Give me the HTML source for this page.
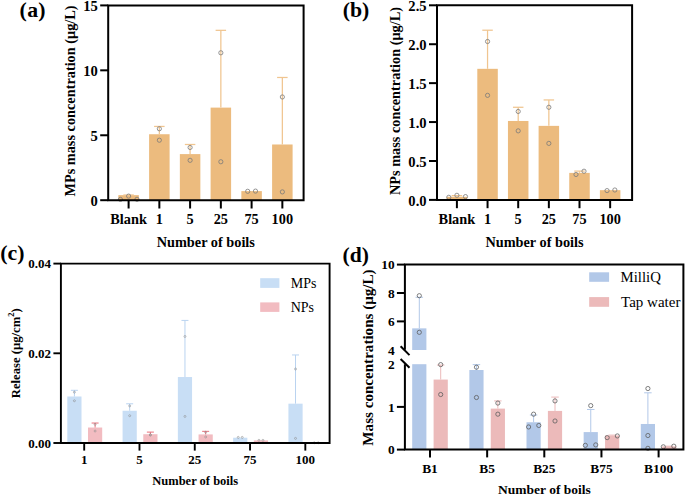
<!DOCTYPE html>
<html><head><meta charset="utf-8"><style>
html,body{margin:0;padding:0;background:#fff;}
body{width:685px;height:495px;overflow:hidden;}
svg{display:block;font-family:"Liberation Serif",serif;}
</style></head><body>
<svg width="685" height="495" viewBox="0 0 685 495">
<rect width="685" height="495" fill="#fff"/>
<rect x="118.35" y="195.14" width="20.50" height="5.06" fill="#ecbb7e"/>
<line x1="128.60" y1="195.14" x2="128.60" y2="195.01" stroke="#f0c590" stroke-width="1.25"/>
<line x1="123.35" y1="195.01" x2="133.85" y2="195.01" stroke="#f0c590" stroke-width="1.25"/>
<rect x="149.10" y="134.23" width="20.50" height="65.97" fill="#ecbb7e"/>
<line x1="159.35" y1="134.23" x2="159.35" y2="126.44" stroke="#f0c590" stroke-width="1.25"/>
<line x1="154.10" y1="126.44" x2="164.60" y2="126.44" stroke="#f0c590" stroke-width="1.25"/>
<rect x="179.85" y="154.10" width="20.50" height="46.10" fill="#ecbb7e"/>
<line x1="190.10" y1="154.10" x2="190.10" y2="144.49" stroke="#f0c590" stroke-width="1.25"/>
<line x1="184.85" y1="144.49" x2="195.35" y2="144.49" stroke="#f0c590" stroke-width="1.25"/>
<rect x="210.60" y="107.61" width="20.50" height="92.59" fill="#ecbb7e"/>
<line x1="220.85" y1="107.61" x2="220.85" y2="30.33" stroke="#f0c590" stroke-width="1.25"/>
<line x1="215.60" y1="30.33" x2="226.10" y2="30.33" stroke="#f0c590" stroke-width="1.25"/>
<rect x="241.35" y="191.11" width="20.50" height="9.09" fill="#ecbb7e"/>
<rect x="272.10" y="144.49" width="20.50" height="55.71" fill="#ecbb7e"/>
<line x1="282.35" y1="144.49" x2="282.35" y2="77.48" stroke="#f0c590" stroke-width="1.25"/>
<line x1="277.10" y1="77.48" x2="287.60" y2="77.48" stroke="#f0c590" stroke-width="1.25"/>
<circle cx="120.40" cy="199.40" r="2.1" fill="none" stroke="#7a7a7a" stroke-width="0.8"/>
<circle cx="128.60" cy="196.10" r="2.1" fill="none" stroke="#7a7a7a" stroke-width="0.8"/>
<circle cx="137.00" cy="199.30" r="2.1" fill="none" stroke="#7a7a7a" stroke-width="0.8"/>
<circle cx="159.35" cy="128.77" r="2.1" fill="none" stroke="#7a7a7a" stroke-width="0.8"/>
<circle cx="159.35" cy="140.20" r="2.1" fill="none" stroke="#7a7a7a" stroke-width="0.8"/>
<circle cx="190.10" cy="147.47" r="2.1" fill="none" stroke="#7a7a7a" stroke-width="0.8"/>
<circle cx="190.10" cy="160.33" r="2.1" fill="none" stroke="#7a7a7a" stroke-width="0.8"/>
<circle cx="220.85" cy="52.80" r="2.1" fill="none" stroke="#7a7a7a" stroke-width="0.8"/>
<circle cx="220.85" cy="161.76" r="2.1" fill="none" stroke="#7a7a7a" stroke-width="0.8"/>
<circle cx="247.70" cy="191.30" r="2.1" fill="none" stroke="#7a7a7a" stroke-width="0.8"/>
<circle cx="255.50" cy="191.10" r="2.1" fill="none" stroke="#7a7a7a" stroke-width="0.8"/>
<circle cx="282.35" cy="96.96" r="2.1" fill="none" stroke="#7a7a7a" stroke-width="0.8"/>
<circle cx="282.35" cy="191.89" r="2.1" fill="none" stroke="#7a7a7a" stroke-width="0.8"/>
<path d="M108.20,5.40 H303.60 V200.20 H108.20 Z" fill="none" stroke="#000" stroke-width="2"/>
<line x1="100.20" y1="200.20" x2="108.20" y2="200.20" stroke="#000" stroke-width="2"/>
<text x="97.80" y="206.10" font-size="14.6" font-weight="bold" text-anchor="end" >0</text>
<line x1="100.20" y1="135.27" x2="108.20" y2="135.27" stroke="#000" stroke-width="2"/>
<text x="97.80" y="141.17" font-size="14.6" font-weight="bold" text-anchor="end" >5</text>
<line x1="100.20" y1="70.33" x2="108.20" y2="70.33" stroke="#000" stroke-width="2"/>
<text x="97.80" y="76.23" font-size="14.6" font-weight="bold" text-anchor="end" >10</text>
<line x1="100.20" y1="5.40" x2="108.20" y2="5.40" stroke="#000" stroke-width="2"/>
<text x="97.80" y="11.30" font-size="14.6" font-weight="bold" text-anchor="end" >15</text>
<line x1="128.60" y1="200.20" x2="128.60" y2="208.50" stroke="#000" stroke-width="2"/>
<line x1="159.35" y1="200.20" x2="159.35" y2="208.50" stroke="#000" stroke-width="2"/>
<line x1="190.10" y1="200.20" x2="190.10" y2="208.50" stroke="#000" stroke-width="2"/>
<line x1="220.85" y1="200.20" x2="220.85" y2="208.50" stroke="#000" stroke-width="2"/>
<line x1="251.60" y1="200.20" x2="251.60" y2="208.50" stroke="#000" stroke-width="2"/>
<line x1="282.35" y1="200.20" x2="282.35" y2="208.50" stroke="#000" stroke-width="2"/>
<text x="128.60" y="224.20" font-size="14.3" font-weight="bold" text-anchor="middle" >Blank</text>
<text x="159.35" y="224.20" font-size="14.3" font-weight="bold" text-anchor="middle" >1</text>
<text x="190.10" y="224.20" font-size="14.3" font-weight="bold" text-anchor="middle" >5</text>
<text x="220.85" y="224.20" font-size="14.3" font-weight="bold" text-anchor="middle" >25</text>
<text x="251.60" y="224.20" font-size="14.3" font-weight="bold" text-anchor="middle" >75</text>
<text x="282.35" y="224.20" font-size="14.3" font-weight="bold" text-anchor="middle" >100</text>
<text x="205.80" y="246.70" font-size="14.3" font-weight="bold" text-anchor="middle" >Number of boils</text>
<text transform="translate(75.00,101.00) rotate(-90)" font-size="14.3" font-weight="bold" text-anchor="middle">MPs mass concentration (μg/L)</text>
<text x="19.60" y="17.20" font-size="21.8" font-weight="bold" text-anchor="start" letter-spacing="0.3">(a)</text>
<rect x="446.65" y="196.79" width="20.50" height="3.11" fill="#ecbb7e"/>
<line x1="456.90" y1="196.79" x2="456.90" y2="195.62" stroke="#f0c590" stroke-width="1.25"/>
<line x1="451.65" y1="195.62" x2="462.15" y2="195.62" stroke="#f0c590" stroke-width="1.25"/>
<rect x="477.30" y="68.82" width="20.50" height="131.08" fill="#ecbb7e"/>
<line x1="487.55" y1="68.82" x2="487.55" y2="30.21" stroke="#f0c590" stroke-width="1.25"/>
<line x1="482.30" y1="30.21" x2="492.80" y2="30.21" stroke="#f0c590" stroke-width="1.25"/>
<rect x="507.95" y="120.97" width="20.50" height="78.93" fill="#ecbb7e"/>
<line x1="518.20" y1="120.97" x2="518.20" y2="107.27" stroke="#f0c590" stroke-width="1.25"/>
<line x1="512.95" y1="107.27" x2="523.45" y2="107.27" stroke="#f0c590" stroke-width="1.25"/>
<rect x="538.60" y="125.87" width="20.50" height="74.03" fill="#ecbb7e"/>
<line x1="548.85" y1="125.87" x2="548.85" y2="99.95" stroke="#f0c590" stroke-width="1.25"/>
<line x1="543.60" y1="99.95" x2="554.10" y2="99.95" stroke="#f0c590" stroke-width="1.25"/>
<rect x="569.25" y="172.89" width="20.50" height="27.01" fill="#ecbb7e"/>
<line x1="579.50" y1="172.89" x2="579.50" y2="171.10" stroke="#f0c590" stroke-width="1.25"/>
<line x1="574.25" y1="171.10" x2="584.75" y2="171.10" stroke="#f0c590" stroke-width="1.25"/>
<rect x="599.90" y="190.17" width="20.50" height="9.73" fill="#ecbb7e"/>
<circle cx="448.80" cy="197.30" r="2.1" fill="none" stroke="#7a7a7a" stroke-width="0.8"/>
<circle cx="456.90" cy="195.30" r="2.1" fill="none" stroke="#7a7a7a" stroke-width="0.8"/>
<circle cx="465.50" cy="196.60" r="2.1" fill="none" stroke="#7a7a7a" stroke-width="0.8"/>
<circle cx="487.55" cy="41.50" r="2.1" fill="none" stroke="#7a7a7a" stroke-width="0.8"/>
<circle cx="487.55" cy="95.36" r="2.1" fill="none" stroke="#7a7a7a" stroke-width="0.8"/>
<circle cx="518.20" cy="111.47" r="2.1" fill="none" stroke="#7a7a7a" stroke-width="0.8"/>
<circle cx="518.20" cy="130.86" r="2.1" fill="none" stroke="#7a7a7a" stroke-width="0.8"/>
<circle cx="548.85" cy="107.27" r="2.1" fill="none" stroke="#7a7a7a" stroke-width="0.8"/>
<circle cx="548.85" cy="143.39" r="2.1" fill="none" stroke="#7a7a7a" stroke-width="0.8"/>
<circle cx="576.00" cy="174.50" r="2.1" fill="none" stroke="#7a7a7a" stroke-width="0.8"/>
<circle cx="584.00" cy="171.20" r="2.1" fill="none" stroke="#7a7a7a" stroke-width="0.8"/>
<circle cx="607.05" cy="190.60" r="2.1" fill="none" stroke="#7a7a7a" stroke-width="0.8"/>
<circle cx="614.85" cy="190.00" r="2.1" fill="none" stroke="#7a7a7a" stroke-width="0.8"/>
<path d="M437.00,5.30 H632.10 V199.90 H437.00 Z" fill="none" stroke="#000" stroke-width="2"/>
<line x1="429.00" y1="199.90" x2="437.00" y2="199.90" stroke="#000" stroke-width="2"/>
<text x="426.60" y="205.80" font-size="14.6" font-weight="bold" text-anchor="end" >0.0</text>
<line x1="429.00" y1="160.98" x2="437.00" y2="160.98" stroke="#000" stroke-width="2"/>
<text x="426.60" y="166.88" font-size="14.6" font-weight="bold" text-anchor="end" >0.5</text>
<line x1="429.00" y1="122.06" x2="437.00" y2="122.06" stroke="#000" stroke-width="2"/>
<text x="426.60" y="127.96" font-size="14.6" font-weight="bold" text-anchor="end" >1.0</text>
<line x1="429.00" y1="83.14" x2="437.00" y2="83.14" stroke="#000" stroke-width="2"/>
<text x="426.60" y="89.04" font-size="14.6" font-weight="bold" text-anchor="end" >1.5</text>
<line x1="429.00" y1="44.22" x2="437.00" y2="44.22" stroke="#000" stroke-width="2"/>
<text x="426.60" y="50.12" font-size="14.6" font-weight="bold" text-anchor="end" >2.0</text>
<line x1="429.00" y1="5.30" x2="437.00" y2="5.30" stroke="#000" stroke-width="2"/>
<text x="426.60" y="11.20" font-size="14.6" font-weight="bold" text-anchor="end" >2.5</text>
<line x1="456.90" y1="199.90" x2="456.90" y2="208.20" stroke="#000" stroke-width="2"/>
<line x1="487.55" y1="199.90" x2="487.55" y2="208.20" stroke="#000" stroke-width="2"/>
<line x1="518.20" y1="199.90" x2="518.20" y2="208.20" stroke="#000" stroke-width="2"/>
<line x1="548.85" y1="199.90" x2="548.85" y2="208.20" stroke="#000" stroke-width="2"/>
<line x1="579.50" y1="199.90" x2="579.50" y2="208.20" stroke="#000" stroke-width="2"/>
<line x1="610.15" y1="199.90" x2="610.15" y2="208.20" stroke="#000" stroke-width="2"/>
<text x="456.90" y="224.00" font-size="14.3" font-weight="bold" text-anchor="middle" >Blank</text>
<text x="487.55" y="224.00" font-size="14.3" font-weight="bold" text-anchor="middle" >1</text>
<text x="518.20" y="224.00" font-size="14.3" font-weight="bold" text-anchor="middle" >5</text>
<text x="548.85" y="224.00" font-size="14.3" font-weight="bold" text-anchor="middle" >25</text>
<text x="579.50" y="224.00" font-size="14.3" font-weight="bold" text-anchor="middle" >75</text>
<text x="610.15" y="224.00" font-size="14.3" font-weight="bold" text-anchor="middle" >100</text>
<text x="534.50" y="246.70" font-size="14.3" font-weight="bold" text-anchor="middle" >Number of boils</text>
<text transform="translate(399.60,101.00) rotate(-90)" font-size="14.3" font-weight="bold" text-anchor="middle">NPs mass concentration (μg/L)</text>
<text x="342.70" y="17.20" font-size="21.8" font-weight="bold" text-anchor="start" >(b)</text>
<rect x="67.30" y="396.49" width="14.20" height="46.51" fill="#c8def5"/>
<line x1="74.40" y1="396.49" x2="74.40" y2="390.30" stroke="#b9d3f0" stroke-width="1.0"/>
<line x1="70.90" y1="390.30" x2="77.90" y2="390.30" stroke="#b9d3f0" stroke-width="1.0"/>
<rect x="122.58" y="410.75" width="14.20" height="32.25" fill="#c8def5"/>
<line x1="129.68" y1="410.75" x2="129.68" y2="403.80" stroke="#b9d3f0" stroke-width="1.0"/>
<line x1="126.18" y1="403.80" x2="133.18" y2="403.80" stroke="#b9d3f0" stroke-width="1.0"/>
<rect x="177.86" y="377.03" width="14.20" height="65.97" fill="#c8def5"/>
<line x1="184.96" y1="377.03" x2="184.96" y2="320.42" stroke="#b9d3f0" stroke-width="1.0"/>
<line x1="181.46" y1="320.42" x2="188.46" y2="320.42" stroke="#b9d3f0" stroke-width="1.0"/>
<rect x="233.14" y="437.71" width="14.20" height="5.29" fill="#c8def5"/>
<rect x="288.42" y="403.67" width="14.20" height="39.33" fill="#c8def5"/>
<line x1="295.52" y1="403.67" x2="295.52" y2="354.96" stroke="#b9d3f0" stroke-width="1.0"/>
<line x1="292.02" y1="354.96" x2="299.02" y2="354.96" stroke="#b9d3f0" stroke-width="1.0"/>
<rect x="88.00" y="427.53" width="14.20" height="15.47" fill="#f2bcc1"/>
<line x1="95.10" y1="427.53" x2="95.10" y2="423.04" stroke="#e86f7a" stroke-width="1.0"/>
<line x1="91.60" y1="423.04" x2="98.60" y2="423.04" stroke="#e86f7a" stroke-width="1.0"/>
<rect x="143.28" y="434.21" width="14.20" height="8.79" fill="#f2bcc1"/>
<line x1="150.38" y1="434.21" x2="150.38" y2="432.10" stroke="#e86f7a" stroke-width="1.0"/>
<line x1="146.88" y1="432.10" x2="153.88" y2="432.10" stroke="#e86f7a" stroke-width="1.0"/>
<rect x="198.56" y="434.43" width="14.20" height="8.57" fill="#f2bcc1"/>
<line x1="205.66" y1="434.43" x2="205.66" y2="431.34" stroke="#e86f7a" stroke-width="1.0"/>
<line x1="202.16" y1="431.34" x2="209.16" y2="431.34" stroke="#e86f7a" stroke-width="1.0"/>
<rect x="253.84" y="440.40" width="14.20" height="2.60" fill="#f2bcc1"/>
<rect x="309.12" y="442.55" width="14.20" height="0.45" fill="#f2bcc1"/>
<circle cx="74.40" cy="392.18" r="1.0" fill="none" stroke="#8c8c8c" stroke-width="0.55"/>
<circle cx="74.40" cy="400.75" r="1.0" fill="none" stroke="#8c8c8c" stroke-width="0.55"/>
<circle cx="129.68" cy="405.91" r="1.0" fill="none" stroke="#8c8c8c" stroke-width="0.55"/>
<circle cx="129.68" cy="415.69" r="1.0" fill="none" stroke="#8c8c8c" stroke-width="0.55"/>
<circle cx="184.96" cy="336.48" r="1.0" fill="none" stroke="#8c8c8c" stroke-width="0.55"/>
<circle cx="184.96" cy="416.45" r="1.0" fill="none" stroke="#8c8c8c" stroke-width="0.55"/>
<circle cx="238.24" cy="437.39" r="1.0" fill="none" stroke="#8c8c8c" stroke-width="0.55"/>
<circle cx="242.24" cy="437.39" r="1.0" fill="none" stroke="#8c8c8c" stroke-width="0.55"/>
<circle cx="295.52" cy="369.00" r="1.0" fill="none" stroke="#8c8c8c" stroke-width="0.55"/>
<circle cx="295.52" cy="438.38" r="1.0" fill="none" stroke="#8c8c8c" stroke-width="0.55"/>
<circle cx="95.10" cy="424.34" r="1.0" fill="none" stroke="#8c8c8c" stroke-width="0.55"/>
<circle cx="95.10" cy="431.03" r="1.0" fill="none" stroke="#8c8c8c" stroke-width="0.55"/>
<circle cx="150.38" cy="434.93" r="1.0" fill="none" stroke="#8c8c8c" stroke-width="0.55"/>
<circle cx="150.38" cy="434.93" r="1.0" fill="none" stroke="#8c8c8c" stroke-width="0.55"/>
<circle cx="205.66" cy="432.28" r="1.0" fill="none" stroke="#8c8c8c" stroke-width="0.55"/>
<circle cx="205.66" cy="436.99" r="1.0" fill="none" stroke="#8c8c8c" stroke-width="0.55"/>
<circle cx="258.94" cy="440.31" r="1.0" fill="none" stroke="#8c8c8c" stroke-width="0.55"/>
<circle cx="262.94" cy="440.31" r="1.0" fill="none" stroke="#8c8c8c" stroke-width="0.55"/>
<circle cx="314.22" cy="442.78" r="1.0" fill="none" stroke="#8c8c8c" stroke-width="0.55"/>
<circle cx="318.22" cy="442.78" r="1.0" fill="none" stroke="#8c8c8c" stroke-width="0.55"/>
<path d="M60.90,263.60 H329.60 V443.00 H60.90 Z" fill="none" stroke="#000" stroke-width="1.9"/>
<line x1="53.40" y1="443.00" x2="60.90" y2="443.00" stroke="#000" stroke-width="1.9"/>
<text x="50.90" y="447.60" font-size="13" font-weight="bold" text-anchor="end" >0.00</text>
<line x1="53.40" y1="353.30" x2="60.90" y2="353.30" stroke="#000" stroke-width="1.9"/>
<text x="50.90" y="357.90" font-size="13" font-weight="bold" text-anchor="end" >0.02</text>
<line x1="53.40" y1="263.60" x2="60.90" y2="263.60" stroke="#000" stroke-width="1.9"/>
<text x="50.90" y="268.20" font-size="13" font-weight="bold" text-anchor="end" >0.04</text>
<line x1="84.20" y1="443.00" x2="84.20" y2="450.60" stroke="#000" stroke-width="1.9"/>
<text x="84.20" y="464.30" font-size="13" font-weight="bold" text-anchor="middle" >1</text>
<line x1="139.48" y1="443.00" x2="139.48" y2="450.60" stroke="#000" stroke-width="1.9"/>
<text x="139.48" y="464.30" font-size="13" font-weight="bold" text-anchor="middle" >5</text>
<line x1="194.76" y1="443.00" x2="194.76" y2="450.60" stroke="#000" stroke-width="1.9"/>
<text x="194.76" y="464.30" font-size="13" font-weight="bold" text-anchor="middle" >25</text>
<line x1="250.04" y1="443.00" x2="250.04" y2="450.60" stroke="#000" stroke-width="1.9"/>
<text x="250.04" y="464.30" font-size="13" font-weight="bold" text-anchor="middle" >75</text>
<line x1="305.32" y1="443.00" x2="305.32" y2="450.60" stroke="#000" stroke-width="1.9"/>
<text x="305.32" y="464.30" font-size="13" font-weight="bold" text-anchor="middle" >100</text>
<text x="195.20" y="485.20" font-size="12.5" font-weight="bold" text-anchor="middle" >Number of boils</text>
<text transform="translate(19.5,353.2) rotate(-90)" font-size="12.7" font-weight="bold" text-anchor="middle">Release (μg/cm<tspan font-size="8.5" dy="-6">2</tspan><tspan dy="6">)</tspan></text>
<text x="0.30" y="260.40" font-size="21.8" font-weight="bold" text-anchor="start" >(c)</text>
<rect x="260.20" y="278.20" width="19.20" height="9.70" fill="#c8def5"/>
<rect x="260.20" y="302.40" width="19.20" height="9.50" fill="#f2bcc1"/>
<text x="290.70" y="288.10" font-size="14" font-weight="normal" text-anchor="start" >MPs</text>
<text x="290.70" y="311.90" font-size="14" font-weight="normal" text-anchor="start" >NPs</text>
<rect x="412.20" y="328.36" width="14.20" height="21.64" fill="#b2c8e8"/>
<rect x="412.20" y="364.20" width="14.20" height="85.40" fill="#b2c8e8"/>
<line x1="419.30" y1="328.36" x2="419.30" y2="297.26" stroke="#b2c8e8" stroke-width="1.0"/>
<line x1="415.55" y1="297.26" x2="423.05" y2="297.26" stroke="#b2c8e8" stroke-width="1.0"/>
<rect x="469.35" y="370.01" width="14.20" height="79.59" fill="#b2c8e8"/>
<line x1="476.45" y1="370.01" x2="476.45" y2="364.63" stroke="#b2c8e8" stroke-width="1.0"/>
<line x1="472.70" y1="364.63" x2="480.20" y2="364.63" stroke="#b2c8e8" stroke-width="1.0"/>
<rect x="526.50" y="422.27" width="14.20" height="27.33" fill="#b2c8e8"/>
<line x1="533.60" y1="422.27" x2="533.60" y2="415.01" stroke="#b2c8e8" stroke-width="1.0"/>
<line x1="529.85" y1="415.01" x2="537.35" y2="415.01" stroke="#b2c8e8" stroke-width="1.0"/>
<rect x="583.65" y="432.09" width="14.20" height="17.51" fill="#b2c8e8"/>
<line x1="590.75" y1="432.09" x2="590.75" y2="409.46" stroke="#b2c8e8" stroke-width="1.0"/>
<line x1="587.00" y1="409.46" x2="594.50" y2="409.46" stroke="#b2c8e8" stroke-width="1.0"/>
<rect x="640.80" y="423.98" width="14.20" height="25.62" fill="#b2c8e8"/>
<line x1="647.90" y1="423.98" x2="647.90" y2="392.81" stroke="#b2c8e8" stroke-width="1.0"/>
<line x1="644.15" y1="392.81" x2="651.65" y2="392.81" stroke="#b2c8e8" stroke-width="1.0"/>
<rect x="433.60" y="379.57" width="14.20" height="70.03" fill="#ecbaba"/>
<line x1="440.70" y1="379.57" x2="440.70" y2="365.05" stroke="#ecbaba" stroke-width="1.0"/>
<line x1="436.95" y1="365.05" x2="444.45" y2="365.05" stroke="#ecbaba" stroke-width="1.0"/>
<rect x="490.75" y="408.61" width="14.20" height="40.99" fill="#ecbaba"/>
<line x1="497.85" y1="408.61" x2="497.85" y2="400.92" stroke="#ecbaba" stroke-width="1.0"/>
<line x1="494.10" y1="400.92" x2="501.60" y2="400.92" stroke="#ecbaba" stroke-width="1.0"/>
<rect x="547.90" y="410.91" width="14.20" height="38.69" fill="#ecbaba"/>
<line x1="555.00" y1="410.91" x2="555.00" y2="397.08" stroke="#ecbaba" stroke-width="1.0"/>
<line x1="551.25" y1="397.08" x2="558.75" y2="397.08" stroke="#ecbaba" stroke-width="1.0"/>
<rect x="605.05" y="435.51" width="14.20" height="14.09" fill="#ecbaba"/>
<line x1="612.15" y1="435.51" x2="612.15" y2="435.08" stroke="#ecbaba" stroke-width="1.0"/>
<line x1="608.40" y1="435.08" x2="615.90" y2="435.08" stroke="#ecbaba" stroke-width="1.0"/>
<rect x="662.20" y="446.40" width="14.20" height="3.20" fill="#ecbaba"/>
<line x1="669.30" y1="446.40" x2="669.30" y2="446.18" stroke="#ecbaba" stroke-width="1.0"/>
<line x1="665.55" y1="446.18" x2="673.05" y2="446.18" stroke="#ecbaba" stroke-width="1.0"/>
<circle cx="419.30" cy="295.70" r="2.1" fill="none" stroke="#5e5e5e" stroke-width="0.8"/>
<circle cx="419.30" cy="332.33" r="2.1" fill="none" stroke="#5e5e5e" stroke-width="0.8"/>
<circle cx="476.45" cy="367.19" r="2.1" fill="none" stroke="#5e5e5e" stroke-width="0.8"/>
<circle cx="476.45" cy="397.51" r="2.1" fill="none" stroke="#5e5e5e" stroke-width="0.8"/>
<circle cx="533.60" cy="414.16" r="2.1" fill="none" stroke="#5e5e5e" stroke-width="0.8"/>
<circle cx="528.60" cy="426.97" r="2.1" fill="none" stroke="#5e5e5e" stroke-width="0.8"/>
<circle cx="538.80" cy="425.47" r="2.1" fill="none" stroke="#5e5e5e" stroke-width="0.8"/>
<circle cx="590.75" cy="405.62" r="2.1" fill="none" stroke="#5e5e5e" stroke-width="0.8"/>
<circle cx="585.35" cy="445.33" r="2.1" fill="none" stroke="#5e5e5e" stroke-width="0.8"/>
<circle cx="595.75" cy="444.90" r="2.1" fill="none" stroke="#5e5e5e" stroke-width="0.8"/>
<circle cx="647.90" cy="388.54" r="2.1" fill="none" stroke="#5e5e5e" stroke-width="0.8"/>
<circle cx="647.90" cy="435.51" r="2.1" fill="none" stroke="#5e5e5e" stroke-width="0.8"/>
<circle cx="647.90" cy="448.32" r="2.1" fill="none" stroke="#5e5e5e" stroke-width="0.8"/>
<circle cx="440.70" cy="364.63" r="2.1" fill="none" stroke="#5e5e5e" stroke-width="0.8"/>
<circle cx="440.70" cy="394.52" r="2.1" fill="none" stroke="#5e5e5e" stroke-width="0.8"/>
<circle cx="497.85" cy="403.06" r="2.1" fill="none" stroke="#5e5e5e" stroke-width="0.8"/>
<circle cx="497.85" cy="414.16" r="2.1" fill="none" stroke="#5e5e5e" stroke-width="0.8"/>
<circle cx="555.00" cy="400.92" r="2.1" fill="none" stroke="#5e5e5e" stroke-width="0.8"/>
<circle cx="555.00" cy="420.99" r="2.1" fill="none" stroke="#5e5e5e" stroke-width="0.8"/>
<circle cx="607.15" cy="437.64" r="2.1" fill="none" stroke="#5e5e5e" stroke-width="0.8"/>
<circle cx="617.35" cy="435.94" r="2.1" fill="none" stroke="#5e5e5e" stroke-width="0.8"/>
<circle cx="663.30" cy="446.82" r="2.1" fill="none" stroke="#5e5e5e" stroke-width="0.8"/>
<circle cx="673.80" cy="446.18" r="2.1" fill="none" stroke="#5e5e5e" stroke-width="0.8"/>
<path d="M404.90,349.80 V264.60 H683.40 V449.60 H404.90 V364.20" fill="none" stroke="#000" stroke-width="2"/>
<line x1="400.60" y1="346.30" x2="409.50" y2="355.10" stroke="#000" stroke-width="2"/>
<line x1="400.60" y1="359.00" x2="409.50" y2="367.80" stroke="#000" stroke-width="2"/>
<line x1="396.90" y1="449.60" x2="404.90" y2="449.60" stroke="#000" stroke-width="2"/>
<text x="394.70" y="454.40" font-size="13.4" font-weight="bold" text-anchor="end" >0</text>
<line x1="396.90" y1="406.90" x2="404.90" y2="406.90" stroke="#000" stroke-width="2"/>
<text x="394.70" y="411.70" font-size="13.4" font-weight="bold" text-anchor="end" >1</text>
<text x="394.70" y="368.60" font-size="13.4" font-weight="bold" text-anchor="end" >2</text>
<text x="394.70" y="355.00" font-size="13.4" font-weight="bold" text-anchor="end" >4</text>
<line x1="396.90" y1="321.40" x2="404.90" y2="321.40" stroke="#000" stroke-width="2"/>
<text x="394.70" y="326.20" font-size="13.4" font-weight="bold" text-anchor="end" >6</text>
<line x1="396.90" y1="293.00" x2="404.90" y2="293.00" stroke="#000" stroke-width="2"/>
<text x="394.70" y="297.80" font-size="13.4" font-weight="bold" text-anchor="end" >8</text>
<line x1="396.90" y1="264.60" x2="404.90" y2="264.60" stroke="#000" stroke-width="2"/>
<text x="394.70" y="269.40" font-size="13.4" font-weight="bold" text-anchor="end" >10</text>
<line x1="430.00" y1="449.60" x2="430.00" y2="457.40" stroke="#000" stroke-width="2"/>
<text x="430.00" y="472.90" font-size="13.4" font-weight="bold" text-anchor="middle" >B1</text>
<line x1="487.15" y1="449.60" x2="487.15" y2="457.40" stroke="#000" stroke-width="2"/>
<text x="487.15" y="472.90" font-size="13.4" font-weight="bold" text-anchor="middle" >B5</text>
<line x1="544.30" y1="449.60" x2="544.30" y2="457.40" stroke="#000" stroke-width="2"/>
<text x="544.30" y="472.90" font-size="13.4" font-weight="bold" text-anchor="middle" >B25</text>
<line x1="601.45" y1="449.60" x2="601.45" y2="457.40" stroke="#000" stroke-width="2"/>
<text x="601.45" y="472.90" font-size="13.4" font-weight="bold" text-anchor="middle" >B75</text>
<line x1="658.60" y1="449.60" x2="658.60" y2="457.40" stroke="#000" stroke-width="2"/>
<text x="658.60" y="472.90" font-size="13.4" font-weight="bold" text-anchor="middle" >B100</text>
<text x="544.40" y="494.30" font-size="13.5" font-weight="bold" text-anchor="middle" >Number of boils</text>
<text transform="translate(373.00,357.50) rotate(-90)" font-size="15.1" font-weight="bold" text-anchor="middle">Mass concentrations (μg/L)</text>
<text x="342.60" y="262.10" font-size="21.6" font-weight="bold" text-anchor="start" >(d)</text>
<rect x="589.20" y="272.30" width="19.90" height="9.50" fill="#b2c8e8"/>
<rect x="589.20" y="297.10" width="19.90" height="9.70" fill="#ecbaba"/>
<text x="620.60" y="281.90" font-size="14.8" font-weight="normal" text-anchor="start" >MilliQ</text>
<text x="621.10" y="306.80" font-size="15.0" font-weight="normal" text-anchor="start" >Tap water</text>
</svg>
</body></html>
